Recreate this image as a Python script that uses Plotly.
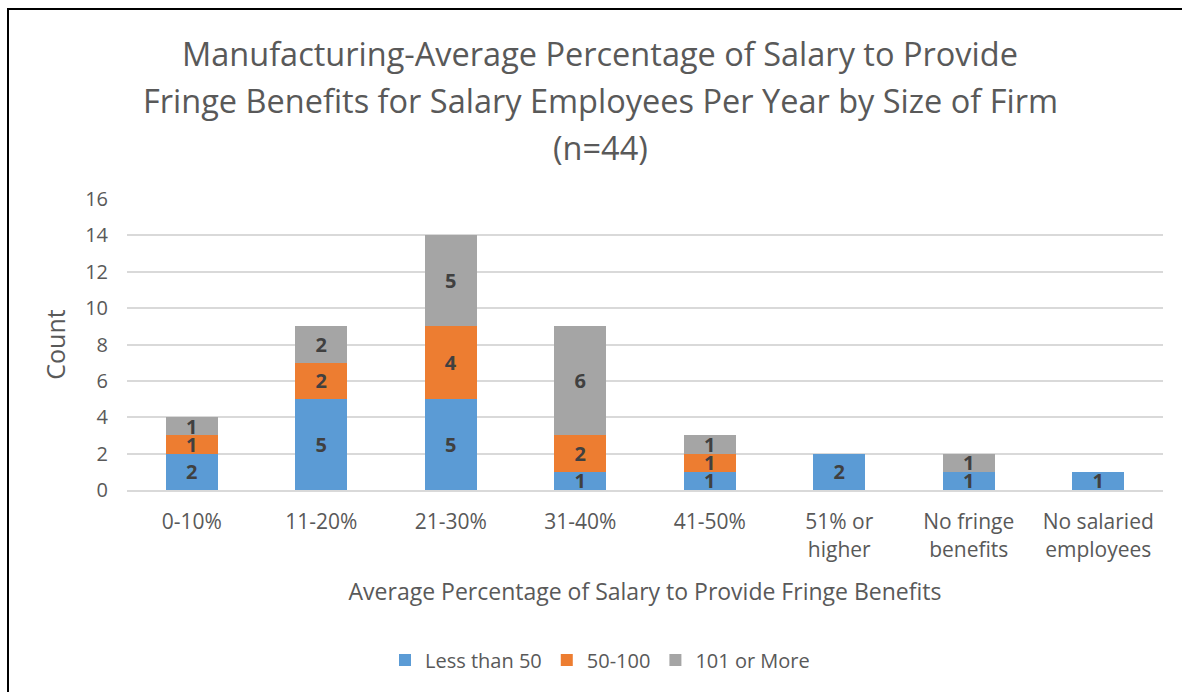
import plotly.graph_objects as go

categories = ["0-10%", "11-20%", "21-30%", "31-40%", "41-50%",
              "51% or<br>higher", "No fringe<br>benefits", "No salaried<br>employees"]
less_than_50 = [2, 5, 5, 1, 1, 2, 1, 1]
from_50_to_100 = [1, 2, 4, 2, 1, 0, 0, 0]
over_100 = [1, 2, 5, 6, 1, 0, 1, 0]

series = [
    ("Less than 50", less_than_50, "#5B9BD5"),
    ("50-100", from_50_to_100, "#ED7D31"),
    ("101 or More", over_100, "#A5A5A5"),
]

title_lines = [
    "Manufacturing-Average Percentage of Salary to Provide",
    "Fringe Benefits for Salary Employees Per Year by Size of Firm",
    "(n=44)",
]

W, H = 1182, 692
L, R, T, B = 127, 19, 199, 202
PW, PH = W - L - R, H - T - B

def px_x(p):
    return (p - L) / PW

def px_y(p):
    return (H - B - p) / PH

FONT = "Open Sans, Segoe UI, sans-serif"
GREY = "#595959"

fig = go.Figure()
for name, vals, color in series:
    fig.add_trace(go.Bar(
        name=name,
        x=categories,
        y=vals,
        marker=dict(color=color, line=dict(width=0)),
        text=[str(v) if v else "" for v in vals],
        textposition="inside",
        insidetextanchor="middle",
        constraintext="none",
        textangle=0,
        textfont=dict(family=FONT, size=20, color="#404040", weight="bold"),
        hoverinfo="skip",
    ))

# three title lines, spaced like the original chart's heading
annotations = [
    dict(text=line, xref="paper", yref="paper",
         x=px_x(600), y=px_y(yc), xanchor="center", yanchor="middle",
         showarrow=False, font=dict(family=FONT, size=32.5, color=GREY))
    for line, yc in zip(title_lines, [53, 100, 147])
]

fig.update_layout(
    width=W, height=H,
    barmode="stack",
    bargap=0.6,
    plot_bgcolor="white",
    paper_bgcolor="white",
    margin=dict(l=L, r=R, t=T, b=B),
    font=dict(family=FONT, color=GREY),
    uniformtext=dict(minsize=20, mode="show"),
    annotations=annotations,
    xaxis=dict(
        showgrid=False,
        showline=True, linecolor="#D9D9D9", linewidth=2,
        ticks="",
        tickfont=dict(size=21, color=GREY),
        ticklabelstandoff=12,
        title=dict(text="Average Percentage of Salary to Provide Fringe Benefits",
                   font=dict(size=23, color=GREY), standoff=22),
    ),
    yaxis=dict(
        range=[0, 16],
        dtick=2,
        showgrid=True, gridcolor="#D9D9D9", gridwidth=2,
        zeroline=False,
        ticks="",
        tickfont=dict(size=20, color=GREY),
        ticklabelstandoff=18,
        title=dict(text="Count", font=dict(size=25, color=GREY), standoff=12),
    ),
    legend=dict(
        orientation="h",
        x=px_x(600), xanchor="center",
        y=px_y(660), yanchor="middle",
        font=dict(size=20, color=GREY),
        itemwidth=30,
        traceorder="normal",
    ),
    shapes=[dict(
        type="rect", xref="paper", yref="paper",
        x0=px_x(8), x1=px_x(1200), y0=px_y(9), y1=px_y(720),
        line=dict(color="#000000", width=2), fillcolor="rgba(0,0,0,0)", layer="above",
    )],
)

fig.write_html("out.html")
